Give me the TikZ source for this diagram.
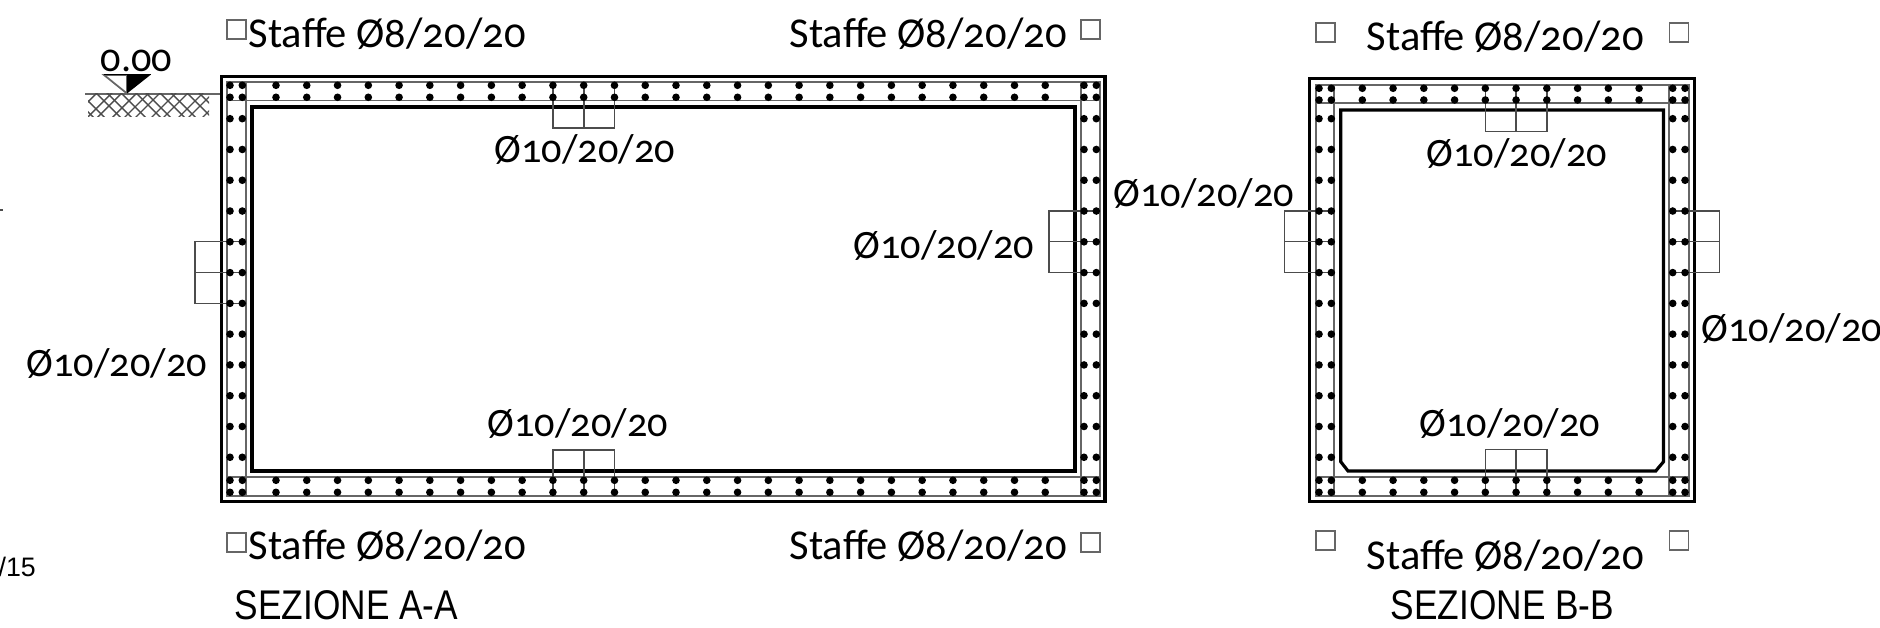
\documentclass[tikz,border=0pt]{standalone}
\usepackage{fontspec}
\setmainfont{Carlito}[Numbers=OldStyle]
\newfontfamily\titlefont[FakeStretch=0.85]{Liberation Sans}
\newfontfamily\smallfont{Liberation Sans}
\tikzset{
	wall/.style={line width=0.9pt, black},
	bar/.style={line width=0.5pt, black!60},
	stirrup/.style={line width=0.4pt, black!70},
	mark box/.style={line width=0.5pt, black!60},
	rebar label/.style={anchor=base west, inner sep=0pt, yshift=-0.7pt, font=\fontsize{11.45}{14}\selectfont},
	staffe label/.style={anchor=base west, inner sep=0pt, yshift=-0.7pt, font=\fontsize{12.1}{14}\selectfont},
	section title/.style={anchor=base west, inner sep=0pt, yshift=-0.6pt, font=\titlefont\fontsize{11.8}{14}\selectfont}
}

\begin{document}
\begin{tikzpicture}[x=0.01cm, y=-0.01cm]
	\useasboundingbox (0,0) rectangle (1880,628);

	% Ground level
	\draw[bar] (85,93.7) -- (220,93.7);
	\begin{scope}
		\clip (88,94) rectangle (209,117);
		\foreach \i/\d in {0/0,1/2,2/-1,3/1,4/0,5/-2,6/1,7/0,8/2,9/-1,10/0,11/1} {
			\draw[stirrup] (70+\i*13+\d,120) -- ++(30,-30);
			\draw[stirrup] (66+\i*13-\d,90) -- ++(30,30);
		}
	\end{scope}
	\draw[bar, fill=white] (104,75) -- (127,93.5) -- (127,75) -- cycle;
	\fill (127,74.5) -- (151,74.5) -- (127,93.5) -- cycle;
	\draw[line width=0.4pt] (104,74.7) -- (151,74.7);
	\node[rebar label] (level) at (100,69.2) {0.00};

	% Section A
	\draw[wall] (221.5,76.5) rectangle (1105,501.5);
	\draw[bar] (227,82) rectangle (1100,496);
	\draw[bar] (227,100.5) -- (1100,100.5);
	\draw[bar] (227,477.3) -- (1100,477.3);
	\draw[bar] (245.7,82) -- (245.7,496);
	\draw[bar] (1081,82) -- (1081,496);
	\draw[wall] (252,107) rectangle (1075,471);

	% Ties of section A
	\draw[stirrup] (553,85.3) -- (553,128) -- (614.7,128) -- (614.7,85.3);
	\draw[stirrup] (583.8,85.3) -- (583.8,128);
	\draw[stirrup] (553,492.3) -- (553,450) -- (614.7,450) -- (614.7,492.3);
	\draw[stirrup] (583.8,492.3) -- (583.8,450);
	\draw[stirrup] (242.3,241.8) -- (195,241.8) -- (195,303.4) -- (242.3,303.4);
	\draw[stirrup] (242.3,272.6) -- (195,272.6);
	\draw[stirrup] (1096.3,211) -- (1049,211) -- (1049,272.6) -- (1096.3,272.6);
	\draw[stirrup] (1096.3,241.8) -- (1049,241.8);

	% Bars of section A
	\foreach \k in {0,...,25} {
		\foreach \y in {85.3,97.3,480.3,492.3} {
			\fill (276+\k*30.77,\y) circle[radius=3.8];
		}
	}
	\foreach \x in {230,242.3,1084,1096.3} {
		\foreach \y in {85.3,97.3,480.3,492.3} {
			\fill (\x,\y) circle[radius=3.8];
		}
		\foreach \k in {0,...,11} {
			\fill (\x,118.7+\k*30.78) circle[radius=3.8];
		}
	}

	% Section B
	\draw[wall] (1309.5,78.5) rectangle (1694.5,501.5);
	\draw[bar] (1316,85) rectangle (1689,496);
	\draw[bar] (1316,103.3) -- (1689,103.3);
	\draw[bar] (1316,477.3) -- (1689,477.3);
	\draw[bar] (1334.3,85) -- (1334.3,496);
	\draw[bar] (1669.3,85) -- (1669.3,496);
	\draw[wall] (1340.7,110) -- (1663.5,110) -- (1663.5,461.7) -- (1655.7,471) -- (1348,471) -- (1340.7,461.7) -- cycle;

	% Ties of section B
	\draw[stirrup] (1485.3,88.3) -- (1485.3,131.3) -- (1546.8,131.3) -- (1546.8,88.3);
	\draw[stirrup] (1516,88.3) -- (1516,131.3);
	\draw[stirrup] (1485.3,492.3) -- (1485.3,449.3) -- (1546.8,449.3) -- (1546.8,492.3);
	\draw[stirrup] (1516,492.3) -- (1516,449.3);
	\draw[stirrup] (1331.3,211) -- (1284.3,211) -- (1284.3,272.6) -- (1331.3,272.6);
	\draw[stirrup] (1331.3,241.8) -- (1284.3,241.8);
	\draw[stirrup] (1672.7,211) -- (1719.3,211) -- (1719.3,272.6) -- (1672.7,272.6);
	\draw[stirrup] (1672.7,241.8) -- (1719.3,241.8);

	% Bars of section B
	\foreach \k in {0,...,9} {
		\foreach \y in {88.3,100,480.3,492.3} {
			\fill (1362.3+\k*30.75,\y) circle[radius=3.8];
		}
	}
	\foreach \x in {1319,1331.3,1672.7,1685} {
		\foreach \y in {88.3,100,480.3,492.3} {
			\fill (\x,\y) circle[radius=3.8];
		}
		\foreach \k in {0,...,11} {
			\fill (\x,118.7+\k*30.78) circle[radius=3.8];
		}
	}

	% Empty squares
	\foreach \x/\y in {227/20,1081/20,227/533,1081/533,1316/23,1669.5/23,1316/531,1669.5/531} {
		\draw[mark box] (\x,\y) rectangle ++(19,19);
	}

	% Labels
	\node[staffe label] (stirrup a1) at (248,45) {Staffe Ø8/20/20};
	\node[staffe label] (stirrup a2) at (789,45) {Staffe Ø8/20/20};
	\node[staffe label] (stirrup a3) at (248,557) {Staffe Ø8/20/20};
	\node[staffe label] (stirrup a4) at (789,557) {Staffe Ø8/20/20};
	\node[staffe label] (stirrup b1) at (1366,48) {Staffe Ø8/20/20};
	\node[staffe label] (stirrup b2) at (1366,566.7) {Staffe Ø8/20/20};
	\node[rebar label] (bar a1) at (494,160) {Ø10/20/20};
	\node[rebar label] (bar a2) at (1113,204.3) {Ø10/20/20};
	\node[rebar label] (bar a3) at (853,256.5) {Ø10/20/20};
	\node[rebar label] (bar a4) at (26,374) {Ø10/20/20};
	\node[rebar label] (bar a5) at (487,434) {Ø10/20/20};
	\node[rebar label] (bar b1) at (1426,164) {Ø10/20/20};
	\node[rebar label] (bar b2) at (1419,434) {Ø10/20/20};
	\node[rebar label] (bar b3) at (1701,339) {Ø10/20/20};
	\node[section title] (title a) at (234,617.7) {SEZIONE A-A};
	\node[section title] (title b) at (1390,617.7) {SEZIONE B-B};

	% Cut off at the sheet edge
	\draw[stirrup] (0,210) -- (3,210);
	\node[anchor=base west, inner sep=0pt, font=\smallfont\fontsize{7.6}{9}\selectfont] (sheet) at (-2,576) {/15};
\end{tikzpicture}
\end{document}
